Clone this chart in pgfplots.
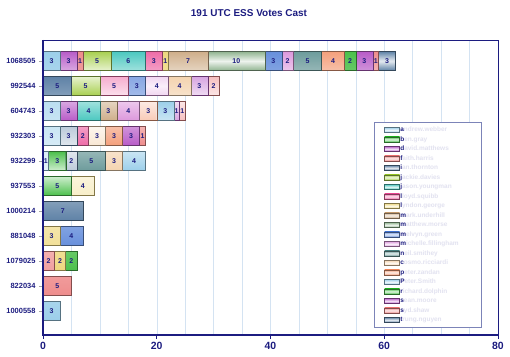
\documentclass[border=0pt]{standalone}
\usepackage{pgfplots}
\usepackage{pgfplotstable}
\pgfplotsset{compat=1.18}
\usepackage{fontspec}
\setmainfont{Liberation Sans}
\definecolor{navy}{HTML}{1C1C80}
\definecolor{faint}{HTML}{E2E2F0}
\definecolor{gridc}{HTML}{D4E3F2}
\definecolor{legc}{HTML}{7C84B8}
\definecolor{k1}{HTML}{9CCFEA}
\definecolor{k2}{HTML}{4CC04C}
\definecolor{k3}{HTML}{B85CC8}
\definecolor{k4}{HTML}{EE8C8C}
\definecolor{k5}{HTML}{5F82A6}
\definecolor{k6}{HTML}{A8D050}
\definecolor{k7}{HTML}{4CC8C0}
\definecolor{k8}{HTML}{EE6CA8}
\definecolor{k9}{HTML}{EED880}
\definecolor{k10}{HTML}{CFAE8A}
\definecolor{k11}{HTML}{90B490}
\definecolor{k12}{HTML}{6890DC}
\definecolor{k13}{HTML}{DC98DC}
\definecolor{k14}{HTML}{6E9C9C}
\definecolor{k15}{HTML}{F4D4B0}
\definecolor{k16}{HTML}{F4A07C}
\pgfplotstableread{
pos c1 c2 c3 c4 c5 c6 c7 c8 c9 c10 c11 c12 c13 c14 c15 c16 c17 c18 c19 c20 c21
10  3  0  3  1  0  5  6  3  1  7   10  3   2   5   0   4   0   2   3   1   3
9   0  0  0  0  5  5  0  5  0  0   0   3   4   0   4   0   0   0   3   2   0
8   3  0  3  0  0  0  4  0  0  3   0   0   4   0   0   3   3   0   1   1   0
7   3  0  0  0  3  0  0  2  0  0   0   0   0   0   3   3   0   0   3   1   0
6   1  3  0  0  2  0  0  0  0  0   0   0   0   5   3   0   4   0   0   0   0
5   0  5  0  0  0  0  0  0  4  0   0   0   0   0   0   0   0   0   0   0   0
4   0  0  0  0  7  0  0  0  0  0   0   0   0   0   0   0   0   0   0   0   0
3   0  0  0  0  0  0  0  0  3  0   0   4   0   0   0   0   0   0   0   0   0
2   0  0  0  2  0  0  0  0  2  0   0   0   0   0   0   0   0   2   0   0   0
1   0  0  0  5  0  0  0  0  0  0   0   0   0   0   0   0   0   0   0   0   0
0   3  0  0  0  0  0  0  0  0  0   0   0   0   0   0   0   0   0   0   0   0
}\data
\newcommand{\lgn}[2]{\makebox[70bp][l]{\textcolor{navy}{#1}\textcolor{faint}{#2}}}
\pgfplotsset{
  seg/.style 2 args={top color=#1, bottom color=#1, middle color=white!84!#1,
    draw=#1!55!black, line width=0.5pt,
    visualization depends on={\thisrow{#2}\as\rawv}},
}
\begin{document}
\begin{tikzpicture}
\begin{axis}[
  /pgf/number format/assume math mode=true,
  scale only axis, width=455bp, height=295bp,
  xbar stacked, bar width=19bp,
  xmin=0, xmax=80, ymin=-0.96, ymax=10.84,
  enlargelimits=false,
  ytick={0,...,10},
  yticklabels={1000558,822034,1079025,881048,1000214,937553,932299,932303,604743,992544,1068505},
  xtick={0,20,40,60,80}, minor x tick num=3,
  xmajorgrids, xminorgrids,
  major grid style={gridc, line width=0.5pt},
  minor grid style={gridc, line width=0.5pt},
  tick pos=left, tick align=outside,
  major tick length=4bp, minor tick length=0bp,
  xtick style={navy, line width=0.6pt},
  ytick style={black!35, line width=0.6pt},
  axis line style={navy, line width=0.7pt},
  x tick label style={font=\fontsize{10.5}{12}\selectfont\bfseries, text=navy},
  y tick label style={font=\fontsize{7.5}{9}\selectfont\bfseries, text=navy},
  nodes near coords={\ifdim\rawv pt>0pt\pgfmathprintnumber{\rawv}\fi},
  every node near coord/.append style={anchor=center, inner sep=0pt,
    font=\fontsize{7}{8}\selectfont\bfseries, text=navy},
  legend cell align=left,
  legend image code/.code={\draw[#1, line width=0.5pt] (0bp,-2.6bp) rectangle (15bp,2.6bp);},
  legend style={at={(0.7275,0.722)}, anchor=north west, draw=legc, line width=0.6pt,
    fill=white, font=\fontsize{6.5}{7}\selectfont\bfseries,
    inner xsep=10bp, inner ysep=4bp, row sep=2.2bp,
    nodes={inner sep=0.5bp, text height=5bp, text depth=1.3bp}},
]
\addplot[seg={k1}{c1}] table[x=c1,y=pos]{\data};
\addplot[seg={k2}{c2}] table[x=c2,y=pos]{\data};
\addplot[seg={k3}{c3}] table[x=c3,y=pos]{\data};
\addplot[seg={k4}{c4}] table[x=c4,y=pos]{\data};
\addplot[seg={k5}{c5}] table[x=c5,y=pos]{\data};
\addplot[seg={k6}{c6}] table[x=c6,y=pos]{\data};
\addplot[seg={k7}{c7}] table[x=c7,y=pos]{\data};
\addplot[seg={k8}{c8}] table[x=c8,y=pos]{\data};
\addplot[seg={k9}{c9}] table[x=c9,y=pos]{\data};
\addplot[seg={k10}{c10}] table[x=c10,y=pos]{\data};
\addplot[seg={k11}{c11}] table[x=c11,y=pos]{\data};
\addplot[seg={k12}{c12}] table[x=c12,y=pos]{\data};
\addplot[seg={k13}{c13}] table[x=c13,y=pos]{\data};
\addplot[seg={k14}{c14}] table[x=c14,y=pos]{\data};
\addplot[seg={k15}{c15}] table[x=c15,y=pos]{\data};
\addplot[seg={k16}{c16}] table[x=c16,y=pos]{\data};
\addplot[seg={k1}{c17}] table[x=c17,y=pos]{\data};
\addplot[seg={k2}{c18}] table[x=c18,y=pos]{\data};
\addplot[seg={k3}{c19}] table[x=c19,y=pos]{\data};
\addplot[seg={k4}{c20}] table[x=c20,y=pos]{\data};
\addplot[seg={k5}{c21}] table[x=c21,y=pos]{\data};
\legend{\lgn{a}{ndrew.webber},\lgn{b}{en.gray},\lgn{d}{avid.matthews},\lgn{f}{aith.harris},
\lgn{i}{an.thornton},\lgn{j}{ackie.davies},\lgn{j}{ason.youngman},\lgn{l}{loyd.squibb},
\lgn{l}{yndon.george},\lgn{m}{ark.underhill},\lgn{m}{atthew.morse},\lgn{m}{elvyn.green},
\lgn{m}{ichelle.fillingham},\lgn{n}{eil.smithey},\lgn{c}{osmo.ricciardi},\lgn{p}{eter.zandan},
\lgn{P}{eter.Smith},\lgn{r}{ichard.dolphin},\lgn{s}{ean.moore},\lgn{s}{yd.shaw},\lgn{t}{rung.nguyen}}
\end{axis}
\draw[navy, line width=1.4pt] (current axis.north west) -- (current axis.south west) -- (current axis.south east);
\node[font=\fontsize{10}{12}\selectfont\bfseries, text=navy] at ([shift={(206bp,322bp)}]current axis.south west) {191 UTC ESS Votes Cast};
\path ([shift={(-43bp,-22bp)}]current axis.south west) rectangle ([shift={(467bp,335bp)}]current axis.south west);
\end{tikzpicture}
\end{document}
